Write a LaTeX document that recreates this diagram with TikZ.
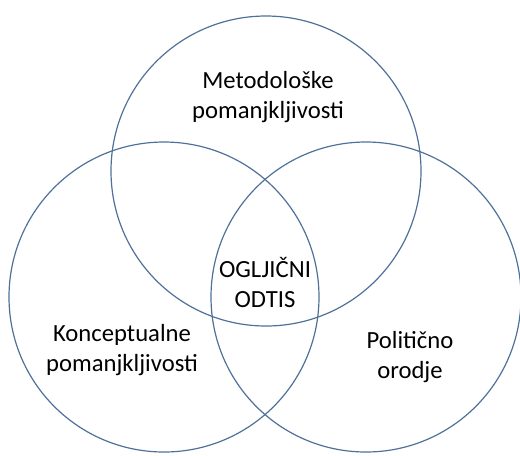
\documentclass[tikz,border=0pt]{standalone}
\usepackage{fontspec}
\setmainfont{Carlito}
\usepackage{tikz}
\usetikzlibrary{positioning}
\definecolor{cazul}{HTML}{4F7199}
\tikzset{
  krog/.style={circle, draw=cazul, line width=0.9pt, minimum size=232.5pt, inner sep=0pt},
  napis/.style={align=center, font=\fontsize{18.5}{22.5}\selectfont, text=black},
}

\begin{document}
\begin{tikzpicture}[x=0.75pt,y=-0.75pt]
  \useasboundingbox (0,0) rectangle (520,455);
  \node[krog] (zg) at (266,171) {};
  \node[krog] (lv) at (164,297) {};
  \node[krog] (ds) at (366,297) {};
  \node[napis] (met) at (268,97) {Metodološke\\pomanjkljivosti};
  \node[napis] (ogl) at (265,282) {OGLJIČNI\\ODTIS};
  \node[napis] (kon) at (122,350) {Konceptualne\\pomanjkljivosti};
  \node[napis] (pol) at (410,357) {Politično\\orodje};
\end{tikzpicture}
\end{document}
